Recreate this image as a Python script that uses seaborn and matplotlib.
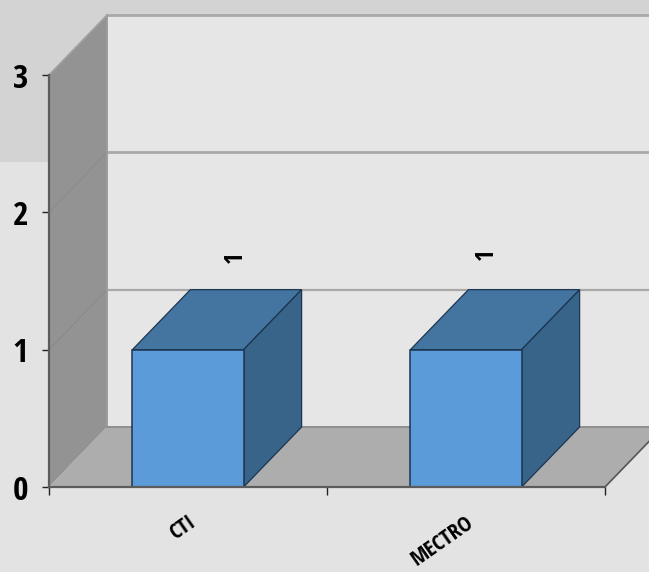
import logging
import matplotlib
matplotlib.use("Agg")
import matplotlib.pyplot as plt
from matplotlib.patches import Rectangle
import pandas as pd
import seaborn as sns

logging.getLogger("matplotlib.font_manager").setLevel(logging.ERROR)

categories = ["CTI", "MECTRO"]
values = [1, 1]
y_ticks = [0, 1, 2, 3]
value_label_offsets_px = [(47, 92), (20, 95)]

W, H = 649, 572
sns.set_theme(style="white")
BOLD_FAMILY = ["Open Sans Condensed", "Liberation Sans Narrow", "Liberation Sans", "DejaVu Sans"]
LIGHT_FAMILY = ["Open Sans Condensed Light"] + BOLD_FAMILY
plt.rcParams["font.family"] = BOLD_FAMILY

fig = plt.figure(figsize=(W / 100, H / 100), dpi=100, facecolor="#e3e3e3")
fig.patches.append(Rectangle((0, 1 - 162 / H), 1, 162 / H, transform=fig.transFigure,
                             facecolor="#d3d3d3", edgecolor="none", zorder=-10))
ax = fig.add_axes([49 / W, 1 - 487 / H, 556 / W, 412 / H])
ax.patch.set_alpha(0)

df = pd.DataFrame({"category": categories, "value": values})
sns.barplot(data=df, x="category", y="value", width=0.4, color="#5b9bd9", saturation=1,
            edgecolor="#1c3550", linewidth=1.1, ax=ax, zorder=6)
bars = list(ax.patches)
ax.set_xlim(-0.5, 1.5)
ax.set_ylim(0, 3)
ax.set_xlabel("")
ax.set_ylabel("")

DX = 58 / 278
DY = 60 / (412 / 3)
x0, x1 = ax.get_xlim()
ytop = ax.get_ylim()[1]

# walls
ax.fill([x0 + DX, x1 + DX, x1 + DX, x0 + DX], [DY, DY, ytop + DY, ytop + DY],
        color="#e6e6e6", lw=0, zorder=1, clip_on=False)
ax.fill([x0, x0 + DX, x0 + DX, x0], [0, DY, ytop + DY, ytop],
        color="#939393", lw=0, zorder=2, clip_on=False)
ax.fill([x0, x1, x1 + DX, x0 + DX], [0, 0, DY, DY],
        color="#adadad", lw=0, zorder=2, clip_on=False)
# grid
for t in y_ticks[1:]:
    ax.plot([x0 + DX, x1 + DX], [t + DY, t + DY], color="#a9a9a9", lw=2 if t > 1 else 1.6,
            zorder=3, clip_on=False)
    ax.plot([x0, x0 + DX], [t, t + DY], color="#8a8a8a", lw=0.8, zorder=3, clip_on=False)
ax.plot([x0 + DX, x0 + DX], [DY, ytop + DY], color="#9c9c9c", lw=1.4, zorder=3, clip_on=False)
ax.plot([x0 + DX, x1 + DX], [DY, DY], color="#8f8f8f", lw=1.4, zorder=3, clip_on=False)
ax.plot([x1, x1 + DX], [0, DY], color="#555555", lw=1.2, zorder=3, clip_on=False)
ax.plot([x0, x0 + DX], [ytop, ytop + DY], color="#a5a5a5", lw=1, zorder=3, clip_on=False)

# bar depth faces, taken from the bars seaborn drew
for bar in bars:
    bx, by, bw, bh = bar.get_x(), bar.get_y(), bar.get_width(), bar.get_height()
    xr = bx + bw
    yt = by + bh
    ax.fill([bx, xr, xr + DX, bx + DX], [yt, yt, yt + DY, yt + DY], facecolor="#4475a1",
            edgecolor="#1c3550", lw=0.9, zorder=5, clip_on=False)
    ax.fill([xr, xr + DX, xr + DX, xr], [by, by + DY, yt + DY, yt], facecolor="#38648a",
            edgecolor="#1c3550", lw=0.9, zorder=5, clip_on=False)

for name, spine in ax.spines.items():
    spine.set_visible(name in ("left", "bottom"))
    spine.set_color("#5c5c5c")
    spine.set_linewidth(1.6)
    spine.set_zorder(7)

ax.set_yticks(y_ticks)
ax.set_yticklabels([str(t) for t in y_ticks], fontsize=24, family=LIGHT_FAMILY, color="black")
ax.tick_params(axis="y", direction="out", length=5, width=1, color="#222222", pad=10, left=True)
ax.set_xticks(range(len(categories)))
ax.set_xticklabels(categories, rotation=35, ha="right", rotation_mode="anchor", fontsize=16,
                   family=LIGHT_FAMILY, color="black")
ax.tick_params(axis="x", which="major", length=0, pad=18)
ax.set_xticks([x0, 0.5, x1], minor=True)
ax.tick_params(axis="x", which="minor", bottom=True, direction="out", length=6, width=1,
               color="#222222")

for i, (v, (ox, oy)) in enumerate(zip(values, value_label_offsets_px)):
    ax.annotate(str(v), xy=(i, v), xytext=(ox * 0.72, oy * 0.72),
                textcoords="offset points", rotation=90, ha="center", va="center",
                fontsize=18, fontweight="bold", color="black", zorder=8, annotation_clip=False)

fig.savefig("out.png", dpi=100, facecolor=fig.get_facecolor())
